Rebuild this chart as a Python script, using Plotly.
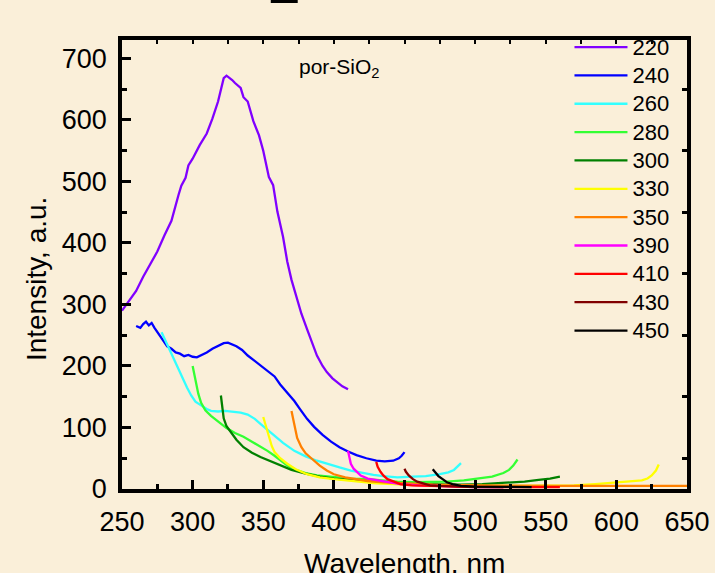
import plotly.graph_objects as go

# ---------------- data ----------------
labels = ["220", "240", "260", "280", "300", "330", "350", "390", "410", "430", "450"]
colors = ["#8000FF", "#0000FF", "#33FFFF", "#33FF33", "#008000", "#FFFF00",
          "#FF8000", "#FF00FF", "#FF0000", "#800000", "#000000"]

x220 = [250, 255, 260, 265, 270, 275, 280, 285, 290, 292, 295, 297, 300, 305, 310, 314, 318, 322,
        324, 326, 328, 330, 334, 336, 339, 343, 347, 350, 354, 357, 360, 364, 367, 370, 373, 377,
        381, 385, 388, 392, 395, 399, 402, 406, 410]
y220 = [290, 305, 322, 345, 366, 386, 412, 436, 478, 493, 506, 526, 537, 559, 578, 602, 630, 668,
        672, 669, 665, 660, 652, 637, 630, 598, 575, 550, 507, 494, 451, 410, 370, 340, 315, 285,
        260, 235, 217, 200, 190, 180, 174, 167, 162]

x240 = [260, 263, 265, 267, 269, 271, 273, 276, 279, 282, 285, 288, 291, 294, 297, 300, 303, 306,
        310, 314, 318, 322, 325, 328, 331, 335, 339, 343, 348, 353, 358, 362, 365, 369, 372, 376,
        381, 386, 392, 398, 404, 410, 416, 423, 430, 436, 442, 446, 448, 450]
y240 = [265, 262, 268, 272, 266, 270, 262, 252, 240, 232, 228, 222, 220, 216, 218, 215, 214, 217,
        222, 228, 233, 237, 238, 235, 232, 226, 217, 210, 201, 192, 183, 170, 162, 150, 143, 130,
        114, 101, 88, 77, 68, 61, 55, 50, 46, 45, 46, 50, 54, 60]

x260 = [278, 281, 284, 287, 290, 293, 296, 299, 302, 306, 310, 313, 318, 323, 329, 334, 339, 344,
        348, 353, 358, 364, 372, 380, 388, 396, 404, 412, 420, 428, 435, 445, 456, 465, 475, 481,
        485, 488, 490]
y260 = [255, 240, 225, 210, 193, 179, 165, 152, 142, 136, 130, 127, 126, 127, 126, 124, 121, 114,
        106, 96, 87, 75, 62, 53, 46, 40, 35, 30, 26, 23, 21, 19, 20, 21, 24, 27,
        31, 37, 42]

x280 = [300, 302, 304, 306, 309, 313, 318, 324, 330, 336, 342, 348, 353, 358, 363, 367, 372, 380,
        388, 400, 412, 424, 433, 445, 456, 468, 480, 492, 504, 512, 520, 524, 527, 529, 530]
y280 = [200, 175, 155, 140, 128, 119, 110, 99, 91, 85, 77, 69, 62, 54, 45, 38, 32, 26,
        22, 19, 17, 16, 14, 12, 11, 11, 12, 14, 17, 20, 26, 31, 38, 44, 48]

x300 = [320, 321, 322, 324, 327, 331, 336, 342, 348, 355, 362, 370, 380, 390, 400, 415, 430, 445,
        460, 475, 490, 505, 520, 535, 545, 553, 560]
y300 = [152, 135, 115, 102, 92, 80, 68, 59, 52, 45, 38, 31, 25, 20, 17, 14, 11, 9,
        8, 7, 7, 8, 10, 12, 15, 17, 20]

x330 = [350, 352, 354, 356, 358, 362, 367, 373, 381, 390, 400, 415, 430, 450, 470, 490, 510, 530,
        550, 570, 585, 598, 610, 618, 622, 625, 628, 629, 630]
y330 = [117, 100, 85, 70, 60, 50, 41, 32, 24, 19, 16, 12, 9, 7, 6, 5, 5, 5,
        5, 6, 8, 10, 12, 14, 17, 22, 30, 35, 40]

x350 = [370, 372, 374, 377, 380, 384, 390, 395, 400, 408, 415, 424, 435, 450, 470, 500, 530, 560,
        590, 620, 650]
y350 = [127, 105, 83, 68, 58, 50, 38, 30, 24, 19, 16, 13, 11, 9, 7, 6, 5, 5,
        5, 5, 5]

x390 = [410, 411, 412, 414, 416, 419, 424, 431, 440, 447, 460, 480, 500, 520]
y390 = [62, 50, 41, 33, 28, 22, 17, 14, 10, 8, 6, 4, 3, 3]

x410 = [430, 431, 433, 435, 438, 442, 447, 455, 468, 490, 520, 560]
y410 = [44, 36, 28, 22, 16, 12, 8, 6, 5, 4, 3, 3]

x430 = [450, 451, 453, 456, 459, 463, 468, 475, 485, 500, 520]
y430 = [33, 28, 22, 16, 12, 9, 6, 5, 4, 3, 3]

x450 = [470, 472, 474, 477, 480, 484, 490, 500, 520, 540]
y450 = [32, 26, 21, 16, 11, 8, 5, 4, 3, 3]

xs = [x220, x240, x260, x280, x300, x330, x350, x390, x410, x430, x450]
ys = [y220, y240, y260, y280, y300, y330, y350, y390, y410, y430, y450]

x_range = [250, 650]
y_range = [0, 730]
x_major = 50
x_minor = 25
y_major = 100
y_minor = 50
top_ticks = list(range(275, 650, 25))
right_ticks = list(range(50, 700, 100))

# ---------------- figure ----------------
BG = "#FAEFD9"
FONT = "Liberation Sans, Arial, sans-serif"

fig = go.Figure()
for lab, col, xv, yv in zip(labels, colors, xs, ys):
    fig.add_trace(go.Scatter(x=xv, y=yv, mode="lines",
                             name='<span style="font-size:22px">' + lab + '</span>',
                             line=dict(color=col, width=2.3)))

# helper trace so that the mirrored frame axes are drawn
fig.add_trace(go.Scatter(x=[], y=[], xaxis="x2", yaxis="y2", showlegend=False,
                         hoverinfo="skip"))

axis_common = dict(showgrid=False, zeroline=False, showline=True, linecolor="black",
                   linewidth=3.5, ticks="inside", tickcolor="black", tickwidth=3,
                   ticklen=9, automargin=False,
                   tickfont=dict(family=FONT, size=27, color="black"))

fig.update_layout(
    width=715, height=573,
    paper_bgcolor=BG, plot_bgcolor=BG,
    margin=dict(l=122, r=28, t=40, b=84, autoexpand=False),
    font=dict(family=FONT, color="black"),
    xaxis=dict(range=x_range, dtick=x_major, tick0=250,
               minor=dict(ticks="inside", dtick=x_minor, tick0=250, ticklen=5,
                          tickwidth=3, tickcolor="black"),
               ticklabelstandoff=6, **axis_common),
    yaxis=dict(range=y_range, dtick=y_major, tick0=0,
               minor=dict(ticks="inside", dtick=y_minor, tick0=0, ticklen=5,
                          tickwidth=3, tickcolor="black"),
               ticklabelstandoff=6, **axis_common),
    xaxis2=dict(overlaying="x", side="top", anchor="y", range=x_range,
                tickvals=top_ticks, ticks="inside", ticklen=4, tickwidth=2,
                tickcolor="black", showticklabels=False, showline=True, automargin=False,
                linecolor="black", linewidth=3.5, showgrid=False, zeroline=False),
    yaxis2=dict(overlaying="y", side="right", anchor="x", range=y_range,
                tickvals=right_ticks, ticks="inside", ticklen=5, tickwidth=3,
                tickcolor="black", showticklabels=False, showline=True, automargin=False,
                linecolor="black", linewidth=3.5, showgrid=False, zeroline=False),
    legend=dict(x=0.792, y=1.027, xanchor="left", yanchor="top", maxheight=600,
                bgcolor="rgba(0,0,0,0)", font=dict(family=FONT, size=19.5, color="black"),
                itemwidth=53, tracegroupgap=0),
    showlegend=True,
)

fig.add_annotation(text="Intensity, a.u.", xref="paper", yref="paper",
                   x=-0.150, y=0.468, textangle=-90, showarrow=False,
                   xanchor="center", yanchor="middle",
                   font=dict(family=FONT, size=28, color="black"))
fig.add_annotation(text="Wavelength, nm", xref="paper", yref="paper",
                   x=0.5, y=-0.165, showarrow=False, xanchor="center", yanchor="middle",
                   font=dict(family=FONT, size=28, color="black"))
fig.add_annotation(text="por-SiO<sub>2</sub>", xref="paper", yref="paper",
                   x=0.385, y=0.937, showarrow=False, xanchor="center", yanchor="middle",
                   font=dict(family=FONT, size=21, color="black"))

# clipped fragment of a heading at the very top of the page
fig.add_shape(type="rect", xref="paper", yref="paper",
              x0=0.2633, x1=0.311, y0=1.0824, y1=1.095,
              line=dict(width=0), fillcolor="black")

fig.write_html("out.html", config={"displayModeBar": False},
               post_script="document.body.style.margin='0';document.body.style.padding='0';"
                           "document.documentElement.style.overflow='hidden';")
